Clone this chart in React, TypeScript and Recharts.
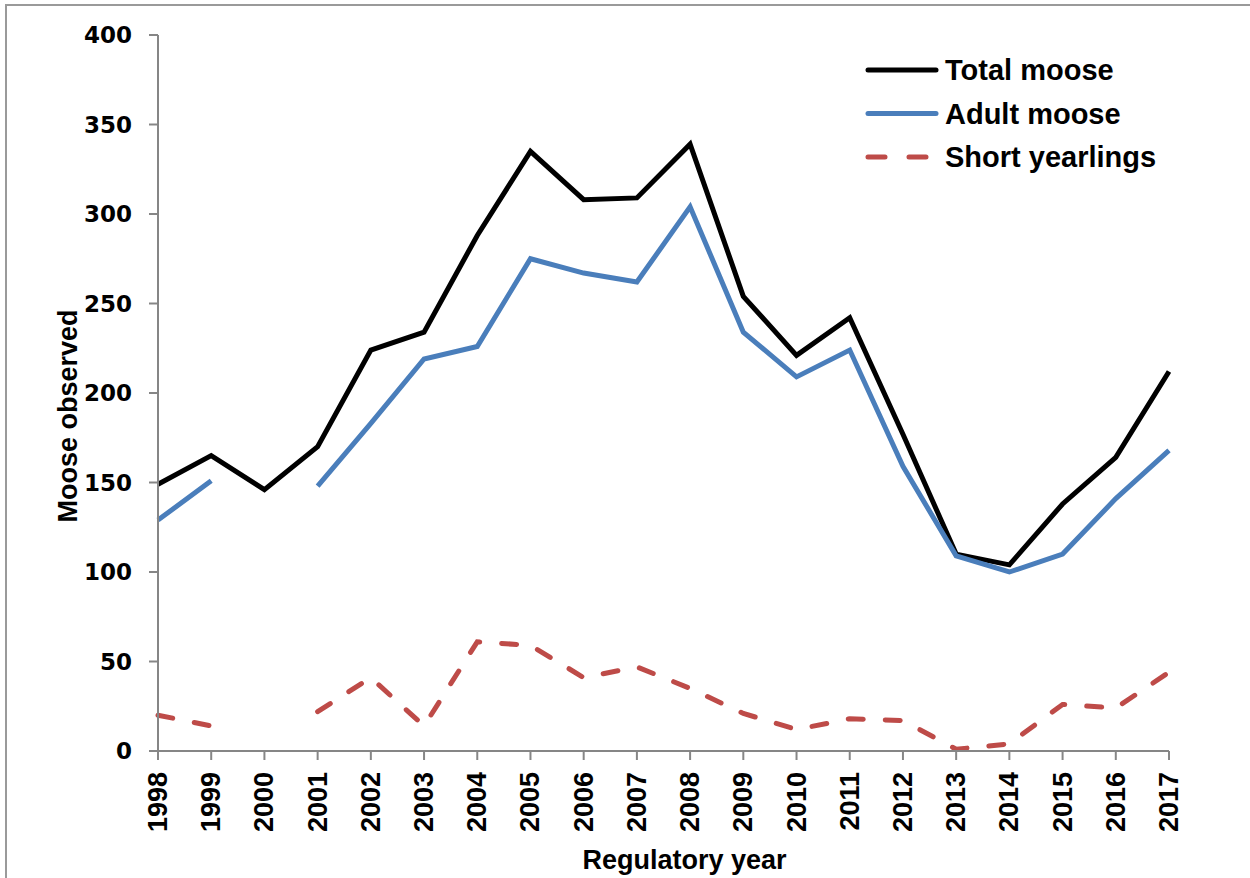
import React from "react";
import { LineChart, Line, XAxis, YAxis } from "recharts";

const years = [1998, 1999, 2000, 2001, 2002, 2003, 2004, 2005, 2006, 2007, 2008, 2009, 2010, 2011, 2012, 2013, 2014, 2015, 2016, 2017];
const totalMoose = [149, 165, 146, 170, 224, 234, 288, 335, 308, 309, 339, 254, 221, 242, 177, 110, 104, 138, 164, 212];
const adultMoose: (number | null)[] = [129, 151, null, 148, 183, 219, 226, 275, 267, 262, 304, 234, 209, 224, 159, 109, 100, 110, 141, 168];
const shortYearlings: (number | null)[] = [20, 14, null, 22, 41, 14, 61, 59, 41, 47, 35, 21, 12, 18, 17, 1, 4, 26, 24, 44];
const yTicks = [0, 50, 100, 150, 200, 250, 300, 350, 400];

const data = years.map((y, i) => ({
  year: String(y),
  total: totalMoose[i],
  adult: adultMoose[i],
  short: shortYearlings[i],
}));

const legendItems = [
  { label: "Total moose", color: "#000000", dash: undefined as string | undefined },
  { label: "Adult moose", color: "#4A7EBB", dash: undefined as string | undefined },
  { label: "Short yearlings", color: "#BE4B48", dash: "17 24" },
];

const XTick = (props: any) => {
  const { x, y, payload } = props;
  return (
    <text
      transform={`translate(${x},${y + 10}) rotate(-90)`}
      textAnchor="end"
      dominantBaseline="central"
      fontFamily="'Liberation Sans', Arial, sans-serif"
      fontWeight="bold"
      fontSize={27}
      fill="#000"
    >
      {payload.value}
    </text>
  );
};

const YTick = (props: any) => {
  const { x, y, payload } = props;
  return (
    <text
      x={x - 15}
      y={y}
      textAnchor="end"
      dominantBaseline="central"
      fontFamily="'DejaVu Sans', sans-serif"
      fontWeight="bold"
      fontSize={23}
      fill="#000"
    >
      {payload.value}
    </text>
  );
};

const LegendBox = () => (
  <svg width={340} height={140} style={{ position: "absolute", left: 864, top: 52 }}>
    {legendItems.map((it, i) => (
      <g key={it.label} transform={`translate(0, ${i * 43.5})`}>
        <line
          x1={4}
          y1={18}
          x2={72}
          y2={18}
          stroke={it.color}
          strokeWidth={5}
          strokeLinecap="round"
          strokeDasharray={it.dash}
        />
        <text
          x={81}
          y={18}
          dominantBaseline="central"
          fontFamily="'Liberation Sans', Arial, sans-serif"
          fontWeight="bold"
          fontSize={29}
          fill="#000"
        >
          {it.label}
        </text>
      </g>
    ))}
  </svg>
);

export default function App() {
  return (
    <div style={{ position: "absolute", left: 0, top: 0, width: 1250, height: 878, overflow: "hidden", background: "#fff" }}>
      <div
        style={{
          position: "absolute",
          left: 5,
          top: 4,
          width: 1300,
          height: 950,
          border: "2px solid #9a9a9a",
          boxSizing: "border-box",
        }}
      />
      <div style={{ position: "absolute", left: 0, top: 0 }}>
        <LineChart width={1250} height={878} data={data} margin={{ top: 35, right: 81, bottom: 0, left: 0 }}>
          <XAxis
            dataKey="year"
            height={127}
            padding={{ left: 0, right: 0 }}
            axisLine={{ stroke: "#868686", strokeWidth: 2 }}
            tickLine={{ stroke: "#868686", strokeWidth: 2 }}
            tickSize={9}
            interval={0}
            tick={<XTick />}
            label={(props: any) => {
              const vb = props.viewBox;
              return (
                <text
                  x={vb.x + vb.width / 2 + 21}
                  y={860}
                  textAnchor="middle"
                  dominantBaseline="central"
                  fontFamily="'Liberation Sans', Arial, sans-serif"
                  fontWeight="bold"
                  fontSize={27}
                  fill="#000"
                >
                  Regulatory year
                </text>
              );
            }}
          />
          <YAxis
            width={158}
            domain={[0, 400]}
            ticks={yTicks}
            interval={0}
            axisLine={{ stroke: "#868686", strokeWidth: 2 }}
            tickLine={{ stroke: "#868686", strokeWidth: 2 }}
            tickSize={9}
            tick={<YTick />}
            label={(props: any) => {
              const vb = props.viewBox;
              const cy = vb.y + vb.height / 2 + 23;
              return (
                <text
                  transform={`translate(68, ${cy}) rotate(-90)`}
                  textAnchor="middle"
                  dominantBaseline="central"
                  fontFamily="'Liberation Sans', Arial, sans-serif"
                  fontWeight="bold"
                  fontSize={27}
                  fill="#000"
                >
                  Moose observed
                </text>
              );
            }}
          />
          <Line
            type="linear"
            dataKey="total"
            stroke="#000000"
            strokeWidth={5}
            dot={false}
            activeDot={false}
            isAnimationActive={false}
          />
          <Line
            type="linear"
            dataKey="adult"
            stroke="#4A7EBB"
            strokeWidth={5}
            dot={false}
            activeDot={false}
            isAnimationActive={false}
          />
          <Line
            type="linear"
            dataKey="short"
            stroke="#BE4B48"
            strokeWidth={5}
            strokeDasharray="15 22"
            strokeLinecap="round"
            dot={false}
            activeDot={false}
            isAnimationActive={false}
          />
        </LineChart>
      </div>
      <LegendBox />
    </div>
  );
}
